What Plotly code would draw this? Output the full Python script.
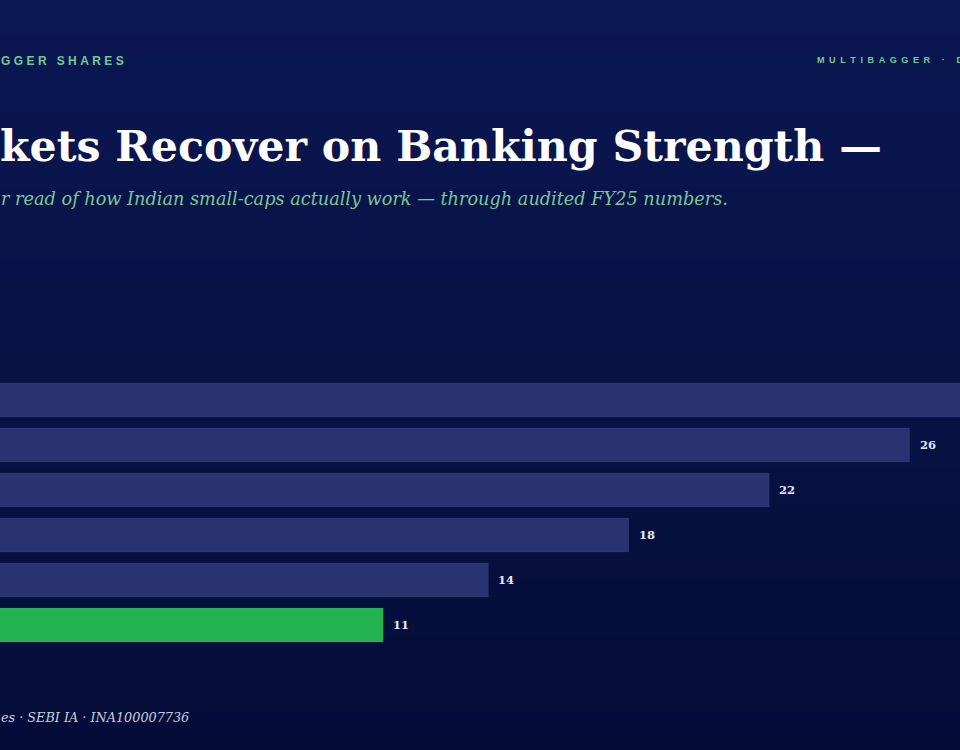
import plotly.graph_objects as go

# ---- data ----
categories = ["Banking", "Financials", "Capital Goods", "Auto", "IT Services", "Small-caps"]
values = [30, 26, 22, 18, 14, 11]
bar_colors = ["#283370", "#283370", "#283370", "#283370", "#283370", "#22b24f"]
value_labels = ["30", "26", "22", "18", "14", "11"]

kicker_left = "GGER SHARES"
kicker_right = "MULTIBAGGER · D"
title_text = "kets Recover on Banking Strength —"
subtitle_text = "r read of how Indian small-caps actually work — through audited FY25 numbers."
footer_text = "es · SEBI IA · INA100007736"

W, H = 960, 750


def spaced(s, sep="\u2009"):
    return sep.join(list(s))


fig = go.Figure()
fig.add_trace(go.Bar(
    y=categories, x=values, orientation="h",
    marker=dict(color=bar_colors, line=dict(width=1, color="rgba(255,255,255,0.04)")),
    hoverinfo="skip", showlegend=False,
))

# value labels
annotations = []
for c, v, t in zip(categories, values, value_labels):
    annotations.append(dict(
        x=v, y=c, xref="x", yref="y", text="<b>" + t + "</b>", showarrow=False,
        xanchor="left", yanchor="middle", xshift=8,
        font=dict(family="DejaVu Serif, Georgia, serif", size=11.5, color="#e6e8f3"),
    ))


def px(xp, yp):
    return xp / W, 1 - yp / H


def ann(text, xp, yp, size, color, family, xanchor="left", **kw):
    x, y = px(xp, yp)
    annotations.append(dict(
        x=x, y=y, xref="paper", yref="paper", text=text, showarrow=False,
        xanchor=xanchor, yanchor="middle",
        font=dict(family=family, size=size, color=color), **kw))


ann("<b>" + spaced(kicker_left, "\u2009\u200a") + "</b>", -1, 61, 12, "#6fcb94", "Liberation Sans, Arial, sans-serif")
ann("<b>" + spaced(kicker_right, "\u2002") + "</b>", 815, 60, 9.1, "#6fcb94", "Liberation Sans, Arial, sans-serif")
ann("<b>" + title_text + "</b>", -2, 146, 42.7, "#ffffff", "DejaVu Serif, Georgia, serif")
ann("<i>" + subtitle_text + "</i>", -1, 199, 17.7, "#7cc795", "DejaVu Serif, Georgia, serif")
ann("<i>" + footer_text + "</i>", -1, 717, 12.8, "#c9cde0", "DejaVu Serif, Georgia, serif")

# background gradient bands
top = (11, 23, 82)
bot = (4, 13, 56)
n = 40
shapes = []
for i in range(n):
    f = i / (n - 1)
    col = tuple(round(top[k] + (bot[k] - top[k]) * f) for k in range(3))
    shapes.append(dict(
        type="rect", xref="paper", yref="paper", x0=-0.01, x1=1.01,
        y0=1 - (i + 1) / n - 0.002, y1=1 - i / n + 0.002,
        fillcolor="rgb(%d,%d,%d)" % col, line=dict(width=0), layer="below"))

# axes: x=0 at pixel -3, 35.1 px per unit; rows 45 px apart, first at y=400
px_per_unit = 35.1
x0 = 3 / px_per_unit
fig.update_layout(
    width=W, height=H,
    margin=dict(l=0, r=0, t=0, b=0, pad=0),
    paper_bgcolor="#07113f", plot_bgcolor="rgba(0,0,0,0)",
    bargap=1 - 34 / 45,
    xaxis=dict(range=[x0, x0 + W / px_per_unit], visible=False, fixedrange=True),
    yaxis=dict(type="category", range=[(H - 400) / 45, -400 / 45], visible=False, fixedrange=True),
    annotations=annotations,
    shapes=shapes,
)

fig.write_html("out.html")
